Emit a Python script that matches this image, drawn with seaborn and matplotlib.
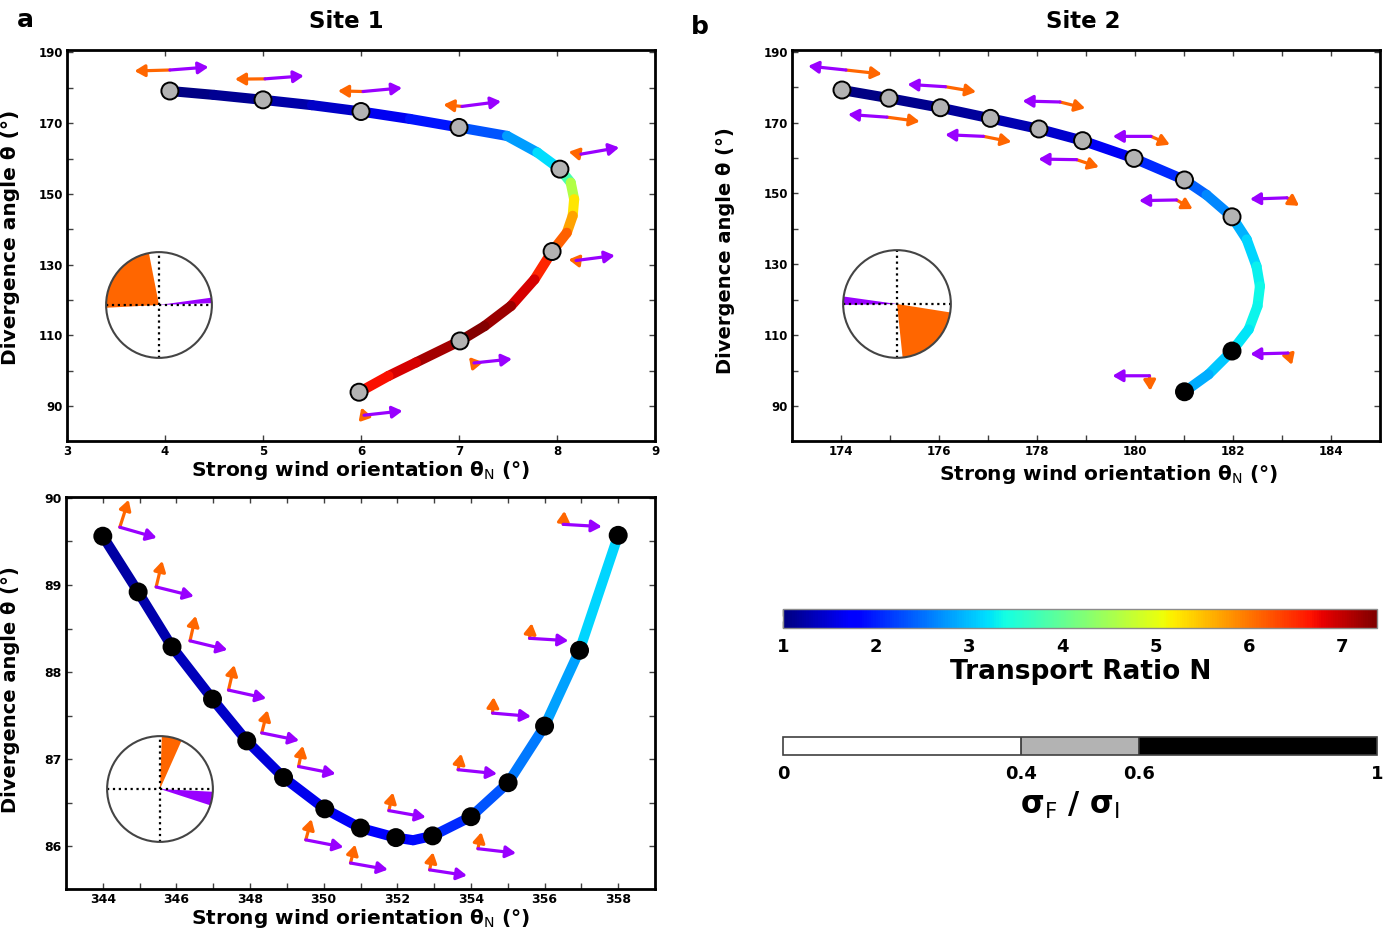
import numpy as np
import pandas as pd
import matplotlib
matplotlib.use("Agg")
import matplotlib as mpl
import matplotlib.pyplot as plt
import seaborn as sns
from matplotlib.collections import LineCollection
from matplotlib.patches import Wedge, Circle
from matplotlib.colors import ListedColormap, BoundaryNorm, Normalize
from matplotlib.transforms import offset_copy

# ---------------- data ----------------
# Panel a (Site 1): curve theta_N, theta, transport ratio N
a_curve_x = [4.05, 4.5, 5.0, 5.5, 6.0, 6.5, 7.0, 7.49, 7.8, 8.03, 8.14, 8.175, 8.16, 8.10, 7.95, 7.77, 7.53, 7.26, 7.01, 6.56, 6.28, 5.98]
a_curve_y = [179.1, 178.0, 176.6, 175.1, 173.3, 171.2, 168.8, 166.4, 161.7, 157.0, 153.2, 148.5, 143.8, 139.0, 133.7, 125.8, 118.3, 112.6, 108.4, 102.3, 98.5, 93.9]
a_curve_N = [1.0, 1.05, 1.15, 1.3, 1.5, 1.75, 2.1, 2.55, 3.0, 3.35, 4.2, 5.0, 5.5, 5.9, 6.4, 6.7, 7.1, 7.35, 7.35, 7.0, 6.8, 6.6]
a_mark_x = [4.05, 5.0, 6.0, 7.0, 8.03, 7.95, 7.01, 5.98]
a_mark_y = [179.1, 176.6, 173.3, 168.8, 157.0, 133.7, 108.4, 93.9]
a_sigma = [0.5, 0.5, 0.5, 0.5, 0.5, 0.5, 0.5, 0.5]
a_orange_dir = [181.6, 180.6, 178.6, 174.7, 169.4, 172.4, 129.8, 109.3]
a_orange_len = [35.4, 30.0, 25.0, 18.6, 12.5, 7.6, 7.8, 8.2]
a_purple_dir = [4.4, 4.4, 5.3, 7.3, 9.9, 7.4, 6.0, 6.4]
a_purple_len = [38.7, 38.9, 39.2, 39.3, 38.8, 39.0, 38.2, 38.7]
a_orange_sector = (101, 183)
a_purple_sector = (2, 8)

# Panel b (Site 2)
b_curve_x = [174.02, 174.98, 176.03, 177.05, 178.04, 178.93, 179.98, 181.01, 181.46, 181.98, 182.28, 182.48, 182.55, 182.5, 182.32, 181.98, 181.5, 181.01]
b_curve_y = [179.2, 176.9, 174.2, 171.2, 168.2, 164.9, 159.9, 153.8, 149.6, 143.4, 137.0, 129.4, 123.8, 118.2, 111.6, 105.5, 98.9, 94.0]
b_curve_N = [1.0, 1.05, 1.1, 1.2, 1.35, 1.5, 1.8, 2.3, 2.5, 2.8, 3.0, 3.25, 3.35, 3.35, 3.3, 3.15, 2.95, 2.8]
b_mark_x = [174.02, 174.98, 176.03, 177.05, 178.04, 178.93, 179.98, 181.01, 181.98, 181.98, 181.01]
b_mark_y = [179.2, 176.9, 174.2, 171.2, 168.2, 164.9, 159.9, 153.8, 143.4, 105.5, 94.0]
b_sigma = [0.5, 0.5, 0.5, 0.5, 0.5, 0.5, 0.5, 0.5, 0.5, 0.8, 0.8]
b_orange_dir = [-6.3, -7.6, -9.6, -11.3, -14.0, -18.4, -23.8, -29.4, -33.5, -71.6, -87.0]
b_orange_len = [36.0, 33.0, 31.0, 28.5, 26.0, 23.5, 20.5, 18.5, 14.5, 12.5, 15.0]
b_purple_dir = [174.0, 176.0, 176.4, 177.5, 178.5, 179.1, 180.0, 181.0, 182.0, 181.5, 180.0]
b_purple_len = [38.0, 39.0, 38.0, 38.2, 37.4, 38.1, 38.2, 37.4, 37.0, 37.7, 37.0]
b_orange_sector = (-84, -9)
b_purple_sector = (172, 181)

# Panel c
c_curve_x = [344.0, 344.96, 345.88, 346.98, 347.91, 348.91, 350.03, 351.0, 351.96, 352.43, 352.96, 354.0, 355.01, 356.0, 356.95, 358.0]
c_curve_y = [89.56, 88.92, 88.29, 87.69, 87.21, 86.79, 86.43, 86.21, 86.10, 86.07, 86.12, 86.34, 86.73, 87.38, 88.25, 89.57]
c_curve_N = [1.2, 1.22, 1.28, 1.38, 1.45, 1.55, 1.65, 1.7, 1.75, 1.8, 1.9, 2.2, 2.45, 2.65, 2.95, 3.3]
c_mark_x = [344.0, 344.96, 345.88, 346.98, 347.91, 348.91, 350.03, 351.0, 351.96, 352.96, 354.0, 355.01, 356.0, 356.95, 358.0]
c_mark_y = [89.56, 88.92, 88.29, 87.69, 87.21, 86.79, 86.43, 86.21, 86.10, 86.12, 86.34, 86.73, 87.38, 88.25, 89.57]
c_sigma = [0.8, 0.8, 0.8, 0.8, 0.8, 0.8, 0.8, 0.8, 0.8, 0.8, 0.8, 0.8, 0.8, 0.8, 0.8]
c_orange_dir = [72.2, 76.6, 77.2, 77.0, 75.7, 78.3, 74.6, 75.7, 76.9, 79.0, 78.4, 79.0, 86.0, 81.3, 84.8]
c_orange_len = [28.8, 26.7, 25.6, 25.7, 23.4, 21.1, 21.5, 19.0, 18.5, 17.9, 16.9, 16.3, 16.0, 15.2, 13.4]
c_purple_dir = [-16.0, -13.9, -13.6, -12.4, -11.5, -11.2, -11.0, -10.0, -10.1, -8.7, -6.6, -5.9, -4.9, -3.5, -3.4]
c_purple_len = [38.4, 38.8, 38.4, 38.6, 38.1, 37.7, 38.3, 37.9, 37.5, 37.7, 38.3, 39.1, 38.5, 38.9, 38.6]
c_orange_sector = (66, 88)
c_purple_sector = (-18, -3)

N_ticks = [1, 2, 3, 4, 5, 6, 7]
sigma_bounds = [0, 0.4, 0.6, 1]
sigma_ticklabels = ["0", "0.4", "0.6", "1"]

# ---------------- layout (pixels) ----------------
W, H = 1392, 932
a_offsets = [(0, 21), (2, 21), (2, 20), (3, 21), (21, 15), (24, -9), (14, -22), (5, -23)]
b_offsets = [(4, 20), (-2, -19), (5, 21), (-7, -18), (21, 27), (-6, -19), (17, 22), (-8, -20), (55, 19), (56, -2), (-35, 16)]
c_offsets = [(17, 9), (18, 5), (18, 6), (16, 9), (15, 8), (15, 11), (-19, -31), (-10, -35), (-7, 27), (-3, -34), (7, -32), (-50, 13), (-52, 13), (-50, 12), (-55, 11)]

ORANGE = "#ff6600"
PURPLE = "#9900ff"

sns.set_style("ticks")
plt.rcParams["font.family"] = ["DejaVu Sans"]
plt.rcParams["font.weight"] = "bold"
plt.rcParams["text.color"] = "black"
plt.rcParams["axes.labelcolor"] = "black"
plt.rcParams["xtick.color"] = "black"
plt.rcParams["ytick.color"] = "black"
plt.rcParams["mathtext.fontset"] = "custom"
plt.rcParams["mathtext.rm"] = "DejaVu Sans:weight=normal"
plt.rcParams["mathtext.it"] = "DejaVu Sans:italic:weight=normal"
plt.rcParams["mathtext.bf"] = "DejaVu Sans:weight=bold"

fig = plt.figure(figsize=(W / 100, H / 100), dpi=100)

def px_axes(l, t, r, b):
    return fig.add_axes([l / W, 1 - b / H, (r - l) / W, (b - t) / H])

normN = Normalize(1, 7.375)
sig_cmap = ListedColormap(["white", "#b3b3b3", "black"])
sig_norm = BoundaryNorm(sigma_bounds, 3)
sig_names = ["low", "mid", "high"]
sig_palette = {"low": "white", "mid": "#b3b3b3", "high": "black"}


def draw_panel(ax, cx, cy, cN, mx, my, msig, o_dir, o_len, p_dir, p_len, offs):
    pts = np.column_stack([cx, cy])
    segs = np.stack([pts[:-1], pts[1:]], axis=1)
    Nseg = (np.array(cN[:-1]) + np.array(cN[1:])) / 2
    lc = LineCollection(segs, cmap="jet", norm=normN, linewidths=7.3,
                        capstyle="round", joinstyle="round", zorder=2)
    lc.set_array(Nseg)
    ax.add_collection(lc)
    cls = [sig_names[min(int(np.digitize(s, sigma_bounds)) - 1, 2)] for s in msig]
    df = pd.DataFrame({"x": mx, "y": my, "cls": cls})
    sns.scatterplot(data=df, x="x", y="y", hue="cls", palette=sig_palette, s=150,
                    edgecolor="black", linewidth=1.4, legend=False, ax=ax, zorder=4)
    for i in range(len(mx)):
        ox, oy = offs[i]
        tail = offset_copy(ax.transData, fig=fig, x=ox, y=oy, units="dots")
        for ang, ln, col in ((o_dir[i], o_len[i], ORANGE), (p_dir[i], p_len[i], PURPLE)):
            tx = ox + ln * np.cos(np.radians(ang))
            ty = oy + ln * np.sin(np.radians(ang))
            tip = offset_copy(ax.transData, fig=fig, x=tx, y=ty, units="dots")
            ax.annotate("", xy=(mx[i], my[i]), xycoords=tip,
                        xytext=(mx[i], my[i]), textcoords=tail,
                        arrowprops=dict(arrowstyle="-|>,head_length=0.6,head_width=0.35",
                                        color=col, lw=2.3, shrinkA=0, shrinkB=0,
                                        mutation_scale=10),
                        annotation_clip=False, zorder=5)


def style_axes(ax, xlim, ylim, xmaj, xmin, ymaj, ymin, fs=8.5):
    ax.set_xlim(*xlim)
    ax.set_ylim(*ylim)
    ax.set_xticks(xmaj)
    ax.set_xticks(xmin, minor=True)
    ax.set_yticks(ymaj)
    ax.set_yticks(ymin, minor=True)
    ax.tick_params(which="both", direction="in", length=4.5, width=1, top=True, right=True,
                   labelsize=fs, pad=3, color="0.25", labelcolor="black")
    for sp in ax.spines.values():
        sp.set_linewidth(2.0)
        sp.set_color("black")
    for lab in ax.get_xticklabels() + ax.get_yticklabels():
        lab.set_fontweight("bold")


xlab = "Strong wind orientation θ$_\\mathrm{N}$ (°)"
ylab = "Divergence angle θ (°)"

# Panel a
axa = px_axes(67, 50, 655, 441)
draw_panel(axa, a_curve_x, a_curve_y, a_curve_N, a_mark_x, a_mark_y, a_sigma,
           a_orange_dir, a_orange_len, a_purple_dir, a_purple_len, a_offsets)
style_axes(axa, (3, 9), (80.1, 190.7), range(3, 10), [], range(90, 191, 20), range(100, 181, 20))
axa.set_xlabel(xlab, fontsize=14.5, fontweight="bold")
axa.set_ylabel(ylab, fontsize=14.5, fontweight="bold")
axa.xaxis.set_label_coords(0.50, -0.047)
axa.yaxis.set_label_coords(-0.080, 0.522)

# Panel b
axb = px_axes(792, 50, 1380, 441)
draw_panel(axb, b_curve_x, b_curve_y, b_curve_N, b_mark_x, b_mark_y, b_sigma,
           b_orange_dir, b_orange_len, b_purple_dir, b_purple_len, b_offsets)
style_axes(axb, (173, 185), (80.1, 190.5), range(174, 185, 2), range(175, 185, 2),
           range(90, 191, 20), range(100, 181, 20))
axb.set_xlabel(xlab, fontsize=14.5, fontweight="bold")
axb.set_ylabel(ylab, fontsize=14, fontweight="bold")
axb.xaxis.set_label_coords(0.539, -0.055)
axb.yaxis.set_label_coords(-0.097, 0.488)

# Panel c
axc = px_axes(66, 497, 655, 889)
draw_panel(axc, c_curve_x, c_curve_y, c_curve_N, c_mark_x, c_mark_y, c_sigma,
           c_orange_dir, c_orange_len, c_purple_dir, c_purple_len, c_offsets)
style_axes(axc, (343, 359), (85.51, 90.01), range(344, 359, 2), range(345, 359, 2),
           range(86, 91), [86.5, 87.5, 88.5, 89.5], fs=9)
axc.set_xlabel(xlab, fontsize=14.5, fontweight="bold")
axc.set_ylabel(ylab, fontsize=14, fontweight="bold")
axc.xaxis.set_label_coords(0.50, -0.047)
axc.yaxis.set_label_coords(-0.078, 0.508)

# Compass insets
def inset(cx, cy, r, orange_sec, purple_sec):
    ax = px_axes(cx - r - 2, cy - r - 2, cx + r + 2, cy + r + 2)
    ax.set_xlim(-1.04, 1.04)
    ax.set_ylim(-1.04, 1.04)
    ax.set_aspect("equal")
    ax.axis("off")
    ax.add_patch(Circle((0, 0), 1, facecolor="white", edgecolor="none", zorder=1))
    ax.add_patch(Wedge((0, 0), 1, orange_sec[0], orange_sec[1], facecolor=ORANGE, lw=0, zorder=2))
    ax.add_patch(Wedge((0, 0), 1, purple_sec[0], purple_sec[1], facecolor=PURPLE, lw=0, zorder=2))
    ax.plot([-1, 1], [0, 0], ls=":", color="black", lw=1.6, zorder=3)
    ax.plot([0, 0], [-1, 1], ls=":", color="black", lw=1.6, zorder=3)
    ax.add_patch(Circle((0, 0), 1, fill=False, edgecolor="#444444", lw=1.5, zorder=4))

inset(159, 305, 53, a_orange_sector, a_purple_sector)
inset(897, 304, 54, b_orange_sector, b_purple_sector)
inset(160, 789, 53, c_orange_sector, c_purple_sector)

# Colorbar: transport ratio
cax1 = px_axes(783, 609, 1377, 628)
cb1 = fig.colorbar(mpl.cm.ScalarMappable(norm=normN, cmap="jet"), cax=cax1,
                   orientation="horizontal", ticks=N_ticks)
cb1.ax.tick_params(direction="in", length=5, width=1, top=True, bottom=True,
                   labeltop=False, labelsize=13, color="0.2", labelcolor="black", pad=7)
cb1.outline.set_edgecolor("0.55")
cb1.outline.set_linewidth(1.0)
for lab in cb1.ax.get_xticklabels():
    lab.set_fontweight("bold")

# Colorbar: sigma ratio
cax2 = px_axes(783, 737, 1377, 755)
cb2 = fig.colorbar(mpl.cm.ScalarMappable(norm=sig_norm, cmap=sig_cmap), cax=cax2,
                   orientation="horizontal", ticks=sigma_bounds, spacing="proportional",
                   drawedges=True)
cb2.ax.set_xticklabels(sigma_ticklabels)
cb2.ax.tick_params(length=0, labelsize=13, pad=7, labelcolor="black")
cb2.outline.set_edgecolor("0.25")
cb2.outline.set_linewidth(1.2)
cb2.dividers.set_color("0.2")
cb2.dividers.set_linewidth(1.2)
for lab in cb2.ax.get_xticklabels():
    lab.set_fontweight("bold")

fig.text(1081 / W, 1 - 672 / H, "Transport Ratio N", ha="center", va="center",
         fontsize=19, fontweight="bold", color="black")
fig.text(1070 / W, 1 - 805 / H, "σ$_\\mathrm{F}$ / σ$_\\mathrm{I}$", ha="center", va="center",
         fontsize=22, fontweight="bold", color="black")

# Titles and panel letters
fig.text(346 / W, 1 - 21 / H, "Site 1", ha="center", va="center", fontsize=16.5, fontweight="bold")
fig.text(1083 / W, 1 - 21 / H, "Site 2", ha="center", va="center", fontsize=16.5, fontweight="bold")
fig.text(25 / W, 1 - 20 / H, "a", ha="center", va="center", fontsize=18, fontweight="bold")
fig.text(700 / W, 1 - 27 / H, "b", ha="center", va="center", fontsize=18, fontweight="bold")

fig.savefig("out.png", dpi=100)
